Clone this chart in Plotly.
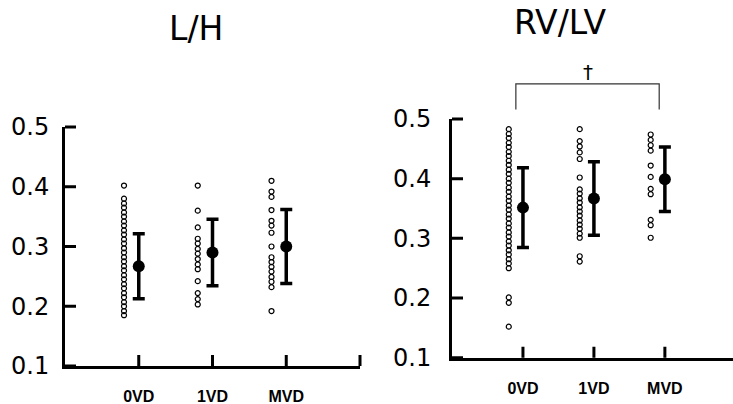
import plotly.graph_objects as go

categories = ["0VD", "1VD", "MVD"]
cat_pos = [1, 2, 3]
y_ticks = [0.1, 0.2, 0.3, 0.4, 0.5]
y_ticktext = ["0.1", "0.2", "0.3", "0.4", "0.5"]

# L/H individual values
lh_0vd = [0.402, 0.380, 0.372, 0.365, 0.357, 0.350, 0.342, 0.335, 0.327, 0.320,
          0.312, 0.305, 0.297, 0.290, 0.282, 0.275, 0.267, 0.260, 0.252, 0.245,
          0.237, 0.230, 0.222, 0.215, 0.207, 0.200, 0.192, 0.185]
lh_1vd = [0.402, 0.360, 0.332, 0.313, 0.305, 0.296, 0.288, 0.279, 0.270, 0.262,
          0.242, 0.222, 0.212, 0.203]
lh_mvd = [0.410, 0.392, 0.383, 0.361, 0.343, 0.335, 0.323, 0.300, 0.282, 0.274,
          0.266, 0.258, 0.249, 0.241, 0.232, 0.192]
lh_mean = [0.267, 0.290, 0.300]
lh_sd = [0.0545, 0.0555, 0.062]

# RV/LV individual values
rv_0vd = [0.483, 0.475, 0.468, 0.460, 0.453, 0.445, 0.438, 0.430, 0.423, 0.415,
          0.408, 0.400, 0.393, 0.385, 0.378, 0.370, 0.363, 0.355, 0.348, 0.340,
          0.333, 0.325, 0.318, 0.310, 0.303, 0.295, 0.288, 0.280, 0.273, 0.265,
          0.258, 0.250, 0.201, 0.192, 0.152]
rv_1vd = [0.483, 0.463, 0.454, 0.444, 0.433, 0.402, 0.382, 0.375, 0.367, 0.360,
          0.352, 0.345, 0.338, 0.330, 0.323, 0.316, 0.308, 0.301, 0.270, 0.261]
rv_mvd = [0.474, 0.465, 0.456, 0.447, 0.422, 0.403, 0.383, 0.374, 0.331, 0.322,
          0.301]
rv_mean = [0.3515, 0.3667, 0.399]
rv_sd = [0.067, 0.0615, 0.054]

titles = ["L/H", "RV/LV"]
sig_label = "\u2020"
sig_pair = [0.9, 2.92]          # bracket ends (category units)
sig_levels = [0.516, 0.559]     # bracket leg bottom / top (y units)
sig_label_y = 0.603

W, H = 733, 404
dot_offset = 0.2
TICK_PX = 11

x1_range = [0, 4]
x2_range = [0, 3.96]
y_range = [0.1, 0.5]

# panel geometry in pixels: (left, right, bottom, top)
p1 = (65, 360, 366, 127)
p2 = (452, W, 357.7, 119)

fig = go.Figure()


def add_panel(groups, means, sds, xa, ya):
    for pos, vals in zip(cat_pos, groups):
        fig.add_trace(go.Scatter(
            x=[pos - dot_offset] * len(vals), y=vals, mode="markers",
            marker=dict(symbol="circle-open", size=5, color="black",
                        line=dict(width=1.2, color="black")),
            xaxis=xa, yaxis=ya, showlegend=False, hoverinfo="y"))
    fig.add_trace(go.Scatter(
        x=cat_pos, y=means, mode="markers",
        marker=dict(symbol="circle", size=12, color="black"),
        error_y=dict(type="data", array=sds, visible=True, color="black",
                     thickness=3.5, width=6),
        xaxis=xa, yaxis=ya, showlegend=False))


def frac(v, r):
    return (v - r[0]) / (r[1] - r[0])


def add_ticks(xticks, xr, geom, xa, ya):
    left, right, bottom, top = geom
    tx = TICK_PX / (right - left)     # tick length as x-domain fraction
    ty = TICK_PX / (bottom - top)     # tick length as y-domain fraction
    xd, yd = xa + " domain", ya + " domain"
    segs = []
    for v in xticks:
        f = frac(v, xr)
        segs.append(f"M {f} 0 L {f} {ty}")
    for v in y_ticks:
        f = frac(v, y_range)
        segs.append(f"M 0 {f} L {tx} {f}")
    fig.add_shape(type="path", path=" ".join(segs), xref=xd, yref=yd,
                  layer="above", line=dict(color="black", width=3))


add_panel([lh_0vd, lh_1vd, lh_mvd], lh_mean, lh_sd, "x", "y")
add_panel([rv_0vd, rv_1vd, rv_mvd], rv_mean, rv_sd, "x2", "y2")
add_ticks([1, 2, 3, 4], x1_range, p1, "x", "y")
add_ticks([1, 2, 3], x2_range, p2, "x2", "y2")

axis_common = dict(showline=True, linewidth=3, linecolor="black",
                   ticks="", showgrid=False, zeroline=False, automargin=False)

xfont = dict(family="Liberation Sans", size=16, color="black", weight="bold")
yfont = dict(family="DejaVu Sans", size=24, color="black")

fig.update_layout(
    template="none",
    width=W, height=H,
    margin=dict(l=0, r=0, t=0, b=0, pad=0),
    paper_bgcolor="white", plot_bgcolor="white",
    xaxis=dict(domain=[p1[0] / W, p1[1] / W], range=x1_range,
               tickvals=cat_pos, ticktext=categories, anchor="y",
               ticklabelstandoff=14, tickfont=xfont, **axis_common),
    yaxis=dict(domain=[(H - p1[2]) / H, (H - p1[3]) / H], range=y_range,
               tickvals=y_ticks, ticktext=y_ticktext, anchor="x",
               ticklabelstandoff=8, tickfont=yfont, **axis_common),
    xaxis2=dict(domain=[p2[0] / W, 1.0], range=x2_range,
                tickvals=cat_pos, ticktext=categories, anchor="y2",
                ticklabelstandoff=14, tickfont=xfont, **axis_common),
    yaxis2=dict(domain=[(H - p2[2]) / H, (H - p2[3]) / H], range=y_range,
                tickvals=y_ticks, ticktext=y_ticktext, anchor="x2",
                ticklabelstandoff=13, tickfont=yfont, **axis_common),
)

# Titles
fig.add_annotation(text=titles[0], x=196 / W, y=1 - 28 / H, xref="paper",
                   yref="paper", showarrow=False, xanchor="center",
                   yanchor="middle",
                   font=dict(family="DejaVu Sans", size=33, color="black"))
fig.add_annotation(text=titles[1], x=560 / W, y=1 - 22 / H, xref="paper",
                   yref="paper", showarrow=False, xanchor="center",
                   yanchor="middle",
                   font=dict(family="DejaVu Sans", size=33, color="black"))

xa0, xa1 = frac(sig_pair[0], x2_range), frac(sig_pair[1], x2_range)
yb, yt = frac(sig_levels[0], y_range), frac(sig_levels[1], y_range)
fig.add_shape(type="path",
              path=f"M {xa0} {yb} L {xa0} {yt} L {xa1} {yt} L {xa1} {yb}",
              xref="x2 domain", yref="y2 domain",
              line=dict(color="#333333", width=1.2))
fig.add_annotation(text=sig_label,
                   x=frac((sig_pair[0] + sig_pair[1]) / 2, x2_range),
                   y=frac(sig_label_y, y_range),
                   xref="x2 domain", yref="y2 domain", showarrow=False,
                   font=dict(family="DejaVu Sans", size=20, color="black"))

fig.write_html(
    "out.html",
    config={"displayModeBar": False},
    post_script="document.body.style.margin='0';"
                "document.body.style.overflow='hidden';",
)
